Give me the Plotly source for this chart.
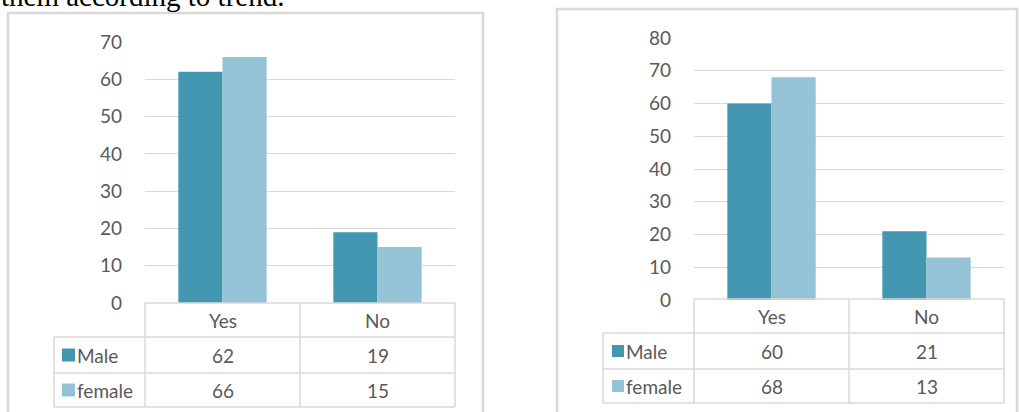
import plotly.graph_objects as go

W, H = 1019, 412

# ---- data ----
categories = ["Yes", "No"]
series_names = ["Male", "female"]
left_male = [62, 19]
left_female = [66, 15]
right_male = [60, 21]
right_female = [68, 13]
left_ticks = [0, 10, 20, 30, 40, 50, 60, 70]
right_ticks = [0, 10, 20, 30, 40, 50, 60, 70, 80]
caption = "them according to trend."

male_color = "#4397B0"
female_color = "#93C3D5"
grid_color = "#D9D9D9"
text_color = "#595959"
FONT = "Lato"


def px(x):
    return x / W


def py(y):
    return 1 - y / H


fig = go.Figure()

# ---- bars ----
for xa, ya, m, f in [("x", "y", left_male, left_female), ("x2", "y2", right_male, right_female)]:
    fig.add_trace(go.Bar(x=categories, y=m, name=series_names[0], marker_color=male_color,
                         marker_line_width=0, xaxis=xa, yaxis=ya, showlegend=False))
    fig.add_trace(go.Bar(x=categories, y=f, name=series_names[1], marker_color=female_color,
                         marker_line_width=0, xaxis=xa, yaxis=ya, showlegend=False))

# geometry of the two panels (pixels)
panels = [
    dict(frame=(8, 13, 483, 420), plot_x=(145, 455), plot_y=(303, 42), ticks=left_ticks,
         table_rows=(303, 337, 373, 407), leg_x=54, sq=(62, 75),
         male=left_male, female=left_female, xa="xaxis", ya="yaxis"),
    dict(frame=(557, 9, 1017, 420), plot_x=(694, 1004), plot_y=(300, 38), ticks=right_ticks,
         table_rows=(299, 333, 369, 403), leg_x=603, sq=(612, 624),
         male=right_male, female=right_female, xa="xaxis2", ya="yaxis2"),
]

shapes = []
annotations = []


def note(text, x, y, xanchor="center", yanchor="middle", font=None):
    annotations.append(dict(text=text, x=x, y=y, xref="paper", yref="paper",
                            xanchor=xanchor, yanchor=yanchor, showarrow=False,
                            font=font, borderpad=0))


for p in panels:
    x0, x1 = p["plot_x"]
    yb, yt = p["plot_y"]
    fig.layout[p["xa"]] = dict(domain=[px(x0), px(x1)], showticklabels=False, showgrid=False,
                               zeroline=False, showline=False, ticks="", automargin=False,
                               anchor=p["ya"].replace("axis", ""))
    fig.layout[p["ya"]] = dict(domain=[py(yb), py(yt)], range=[0, p["ticks"][-1]],
                               tickvals=p["ticks"], showgrid=True, gridcolor=grid_color,
                               gridwidth=1, zeroline=False, showline=False, ticks="",
                               ticklabelstandoff=22, automargin=False,
                               tickfont=dict(family=FONT, size=19, color=text_color),
                               anchor=p["xa"].replace("axis", ""))
    # frame
    fx0, fy0, fx1, fy1 = p["frame"]
    shapes.append(dict(type="rect", xref="paper", yref="paper", x0=px(fx0), x1=px(fx1),
                       y0=py(fy1), y1=py(fy0), line=dict(color=grid_color, width=2.5),
                       fillcolor="rgba(0,0,0,0)", layer="below"))
    # table
    r0, r1, r2, r3 = p["table_rows"]
    xm = (x0 + x1) / 2
    lx = p["leg_x"]
    lc = dict(color=grid_color, width=1.5)
    hlines = [(x0, x1, r0), (lx, x1, r1), (lx, x1, r2), (lx, x1, r3)]
    for a, b, y in hlines:
        shapes.append(dict(type="line", xref="paper", yref="paper", x0=px(a), x1=px(b),
                           y0=py(y), y1=py(y), line=lc))
    vlines = [(x0, r0, r3), (xm, r0, r3), (x1, r0, r3), (lx, r1, r3)]
    for x, a, b in vlines:
        shapes.append(dict(type="line", xref="paper", yref="paper", x0=px(x), x1=px(x),
                           y0=py(a), y1=py(b), line=lc))
    col_c = [(x0 + xm) / 2, (xm + x1) / 2]
    row_c = [(r0 + r1) / 2, (r1 + r2) / 2, (r2 + r3) / 2]
    tf = dict(family=FONT, size=19, color=text_color)
    for i, c in enumerate(categories):
        note(c, px(col_c[i]), py(row_c[0]), font=tf)
        note(str(p["male"][i]), px(col_c[i]), py(row_c[1]), font=tf)
        note(str(p["female"][i]), px(col_c[i]), py(row_c[2]), font=tf)
    s0, s1 = p["sq"]
    for j, (name, col) in enumerate(zip(series_names, [male_color, female_color])):
        rc = row_c[j + 1]
        half = (s1 - s0) / 2
        shapes.append(dict(type="rect", xref="paper", yref="paper", x0=px(s0), x1=px(s1),
                           y0=py(rc + half), y1=py(rc - half), fillcolor=col, line=dict(width=0)))
        note(name, px(s1 + 1), py(rc), xanchor="left", font=tf)

note(caption, 0, py(-4), xanchor="left",
     font=dict(family="Liberation Serif", size=29, color="black"))

fig.update_layout(width=W, height=H, margin=dict(l=0, r=0, t=0, b=0, autoexpand=False),
                  paper_bgcolor="white", plot_bgcolor="white",
                  barmode="group", bargap=0.43, bargroupgap=0,
                  shapes=shapes, annotations=annotations)

fig.write_html("out.html")
